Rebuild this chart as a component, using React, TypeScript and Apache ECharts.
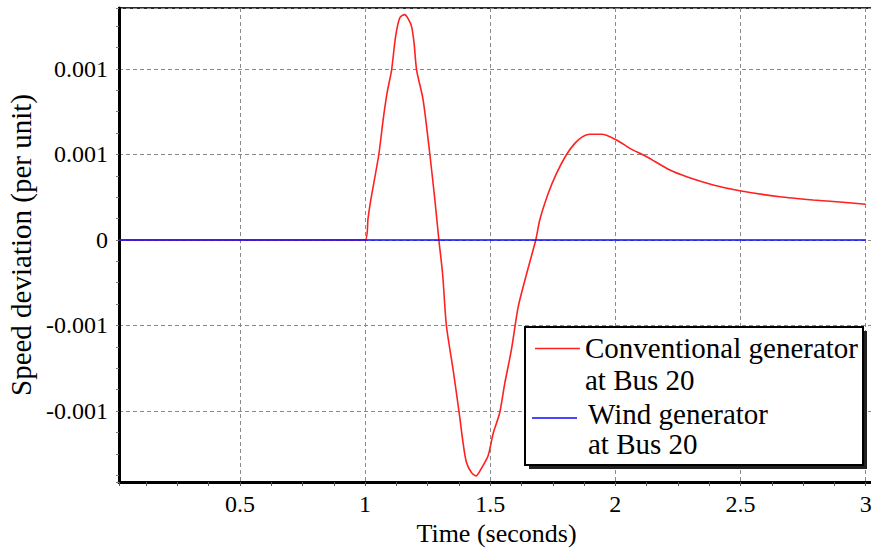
import React, { useEffect, useRef } from "react";
import * as echarts from "echarts";

// Time (seconds) and speed deviation (per unit) of the conventional generator at Bus 20
const conventionalTime = [
  0.017, 1.0, 1.012, 1.023, 1.055, 1.072, 1.088, 1.106, 1.122, 1.139, 1.158, 1.172, 1.186, 1.196,
  1.206, 1.232, 1.259, 1.279, 1.295, 1.31, 1.325, 1.352, 1.376, 1.392, 1.405, 1.425, 1.443,
  1.465, 1.492, 1.512, 1.538, 1.558, 1.585, 1.612, 1.645, 1.682, 1.698, 1.732, 1.765, 1.805,
  1.838, 1.865, 1.898, 1.945, 2.005, 2.058, 2.125, 2.218, 2.285, 2.391, 2.497, 2.657, 2.79,
  2.897, 3.0,
];
const conventionalSpeed = [
  0, 0, 0.000127, 0.000234, 0.0005, 0.0007, 0.00086, 0.000994, 0.00119, 0.0013, 0.001318,
  0.001295, 0.001248, 0.00115, 0.000994, 0.00082, 0.0005, 0.000234, 0, -0.0002, -0.0005,
  -0.00076, -0.00101, -0.00119, -0.0013, -0.00136, -0.00138, -0.001335, -0.00126, -0.00113,
  -0.00101, -0.00084, -0.00064, -0.00039, -0.0002, 0, 0.000117, 0.000273, 0.00039, 0.0005,
  0.000565, 0.0006, 0.000618, 0.000618, 0.000585, 0.000536, 0.000487, 0.000409, 0.00037,
  0.000322, 0.000288, 0.000253, 0.000234, 0.000222, 0.000209,
];
// Wind generator at Bus 20
const windTime = [0.017, 3.0];
const windSpeed = [0, 0];

const seriesNames = ["Conventional generator\nat Bus 20", "Wind generator\nat Bus 20"];

const xTickValues = [0.5, 1, 1.5, 2, 2.5, 3];
const xTickLabels = ["0.5", "1", "1.5", "2", "2.5", "3"];
const yTickValues = [0.001, 0.0005, 0, -0.0005, -0.001];
const yTickLabels = ["0.001", "0.001", "0", "-0.001", "-0.001"];

const X_MIN = 0.017;
const X_MAX = 3.0334;
const Y_MIN = -0.0014152;
const Y_MAX = 0.0013567;

const FONT = "Liberation Serif, DejaVu Serif, serif";

function lookup(values: number[], labels: string[], v: number, eps: number) {
  for (let i = 0; i < values.length; i++) {
    if (Math.abs(values[i] - v) < eps) return labels[i];
  }
  return "";
}

export default function App() {
  const ref = useRef<HTMLDivElement>(null);
  useEffect(() => {
    const chart = echarts.init(ref.current!, null, { renderer: "svg" });
    const conv = conventionalTime.map((t, i) => [t, conventionalSpeed[i]]);
    const wind = windTime.map((t, i) => [t, windSpeed[i]]);
    const splitLine = { show: true, lineStyle: { color: "#8a8a8a", width: 1, type: [4, 3] } };
    chart.setOption({
      animation: false,
      backgroundColor: "#ffffff",
      textStyle: { fontFamily: FONT },
      grid: {
        left: 119,
        top: 8,
        right: -3,
        bottom: 67,
        show: true,
        borderColor: "#2a2a2a",
        borderWidth: 2,
        backgroundColor: "transparent",
        containLabel: false,
        outerBoundsMode: "none",
      },
      xAxis: {
        type: "value",
        min: X_MIN,
        max: X_MAX,
        minInterval: 0.5,
        maxInterval: 0.5,
        name: "Time (seconds)",
        nameLocation: "middle",
        nameGap: 38,
        nameTextStyle: { fontFamily: FONT, fontSize: 26, color: "#000" },
        axisLine: { show: true, onZero: false, lineStyle: { color: "#000", width: 3 } },
        axisTick: { show: true, length: 4, lineStyle: { color: "#555", width: 1 } },
        minorTick: { show: true, splitNumber: 4, length: 4, lineStyle: { color: "#555", width: 1 } },
        axisLabel: {
          fontFamily: FONT,
          fontSize: 24,
          color: "#000",
          margin: 10,
          formatter: (v: number) => lookup(xTickValues, xTickLabels, v, 1e-6),
        },
        splitLine,
      },
      yAxis: {
        type: "value",
        min: Y_MIN,
        max: Y_MAX,
        minInterval: 0.0005,
        maxInterval: 0.0005,
        name: "Speed deviation (per unit)",
        nameLocation: "middle",
        nameGap: 83,
        nameTextStyle: { fontFamily: FONT, fontSize: 29, color: "#000" },
        axisLine: { show: true, onZero: false, lineStyle: { color: "#000", width: 3 } },
        axisTick: { show: true, length: 3, lineStyle: { color: "#777", width: 1 } },
        minorTick: { show: true, splitNumber: 4, length: 3, lineStyle: { color: "#777", width: 1 } },
        axisLabel: {
          fontFamily: FONT,
          fontSize: 24,
          color: "#000",
          margin: 11,
          formatter: (v: number) => lookup(yTickValues, yTickLabels, v, 1e-9),
        },
        splitLine,
      },
      series: [
        {
          name: seriesNames[0],
          type: "line",
          data: conv,
          showSymbol: false,
          smooth: 0.25,
          lineStyle: { color: "#ff2020", width: 1.6 },
          z: 2,
        },
        {
          name: seriesNames[1],
          type: "line",
          data: wind,
          showSymbol: false,
          lineStyle: { color: "#0a0aff", width: 1.6 },
          z: 3,
        },
      ],
      graphic: [
        { type: "rect", shape: { x: 529, y: 331, width: 338, height: 138 }, style: { fill: "#222" }, z: 10 },
        {
          type: "rect",
          shape: { x: 525, y: 327, width: 338, height: 138 },
          style: { fill: "#fff", stroke: "#000", lineWidth: 2 },
          z: 11,
        },
        { type: "line", shape: { x1: 535, y1: 348.5, x2: 580, y2: 348.5 }, style: { stroke: "#ff2020", lineWidth: 1.5 }, z: 12 },
        { type: "line", shape: { x1: 532, y1: 418, x2: 577, y2: 418 }, style: { stroke: "#0a0aff", lineWidth: 1.5 }, z: 12 },
        {
          type: "text",
          x: 585,
          y: 332,
          style: { text: seriesNames[0], fontFamily: FONT, fontSize: 29, fill: "#000", lineHeight: 32 },
          z: 12,
        },
        {
          type: "text",
          x: 588,
          y: 399,
          style: { text: seriesNames[1], fontFamily: FONT, fontSize: 29, fill: "#000", lineHeight: 30 },
          z: 12,
        },
      ],
    });
    return () => chart.dispose();
  }, []);
  return (
    <div
      ref={ref}
      style={{ position: "fixed", left: 0, top: 0, width: 871, height: 549, background: "#fff" }}
    />
  );
}
